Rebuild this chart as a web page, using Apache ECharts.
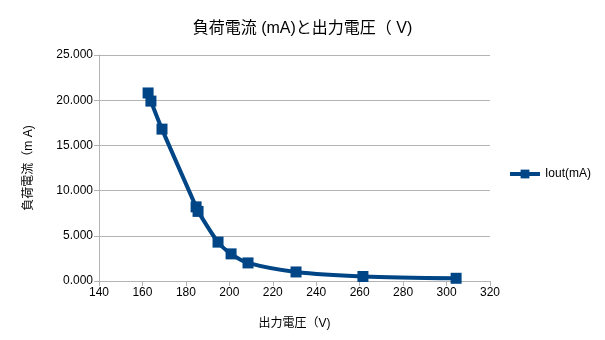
<!DOCTYPE html>
<html>
<head>
<meta charset="utf-8">
<script src="https://cdn.jsdelivr.net/npm/echarts@6/dist/echarts.min.js"></script>
<style>
html,body{margin:0;padding:0;background:#fff;}
#chart{width:605px;height:340px;}
</style>
</head>
<body>
<div id="chart"></div>
<script>
// Output voltage (V) and load current (mA)
const voltage = [162.6, 163.9, 169.0, 184.7, 185.6, 194.8, 200.8, 208.6, 230.7, 261.5, 304.4];
const current = [20.8, 19.9, 16.8, 8.2, 7.7, 4.3, 3.0, 2.0, 1.0, 0.5, 0.3];
const seriesName = 'Iout(mA)';
const titleText = '負荷電流 (mA)と出力電圧（ V)';
const xName = '出力電圧（V)';
const yName = '負荷電流（m A)';

const font = '"Liberation Sans", "Noto Sans CJK JP", sans-serif';
const chart = echarts.init(document.getElementById('chart'));
chart.setOption({
  animation: false,
  backgroundColor: '#fff',
  textStyle: { fontFamily: font },
  title: {
    text: titleText,
    left: 'center',
    top: 16,
    textStyle: { fontFamily: font, fontSize: 16, fontWeight: 'normal', color: '#000' }
  },
  legend: {
    orient: 'vertical',
    left: 503,
    top: 163,
    itemWidth: 30,
    itemHeight: 11,
    itemGap: 4,
    lineStyle: { width: 4, color: '#004586' },
    textStyle: { fontFamily: font, fontSize: 12, color: '#000' },
    data: [seriesName]
  },
  grid: { left: 99, right: 115, top: 55, bottom: 59 },
  xAxis: {
    type: 'value',
    min: 140, max: 320, interval: 20,
    name: xName,
    nameLocation: 'middle',
    nameGap: 37,
    nameTextStyle: { fontFamily: font, fontSize: 12, color: '#000' },
    axisLine: { show: true, lineStyle: { color: '#b3b3b3' } },
    axisTick: { show: true, length: 5, lineStyle: { color: '#b3b3b3' } },
    axisLabel: { fontFamily: font, fontSize: 12, color: '#000', margin: 6 },
    splitLine: { show: false }
  },
  yAxis: {
    type: 'value',
    min: 0, max: 25, interval: 5,
    name: yName,
    nameLocation: 'middle',
    nameGap: 64,
    nameTextStyle: { fontFamily: font, fontSize: 12, color: '#000' },
    axisLine: { show: true, lineStyle: { color: '#b3b3b3' } },
    axisTick: { show: true, length: 5, lineStyle: { color: '#b3b3b3' } },
    axisLabel: { fontFamily: font, fontSize: 12, color: '#000', margin: 6,
      formatter: v => v.toFixed(3) },
    splitLine: { show: true, lineStyle: { color: '#b3b3b3', width: 1 } }
  },
  series: [{
    name: seriesName,
    type: 'line',
    data: voltage.map((v, i) => [v, current[i]]),
    smooth: 0.3,
    symbol: 'rect',
    symbolSize: 11,
    itemStyle: { color: '#004586' },
    lineStyle: { color: '#004586', width: 4 }
  }]
});
</script>
</body>
</html>
